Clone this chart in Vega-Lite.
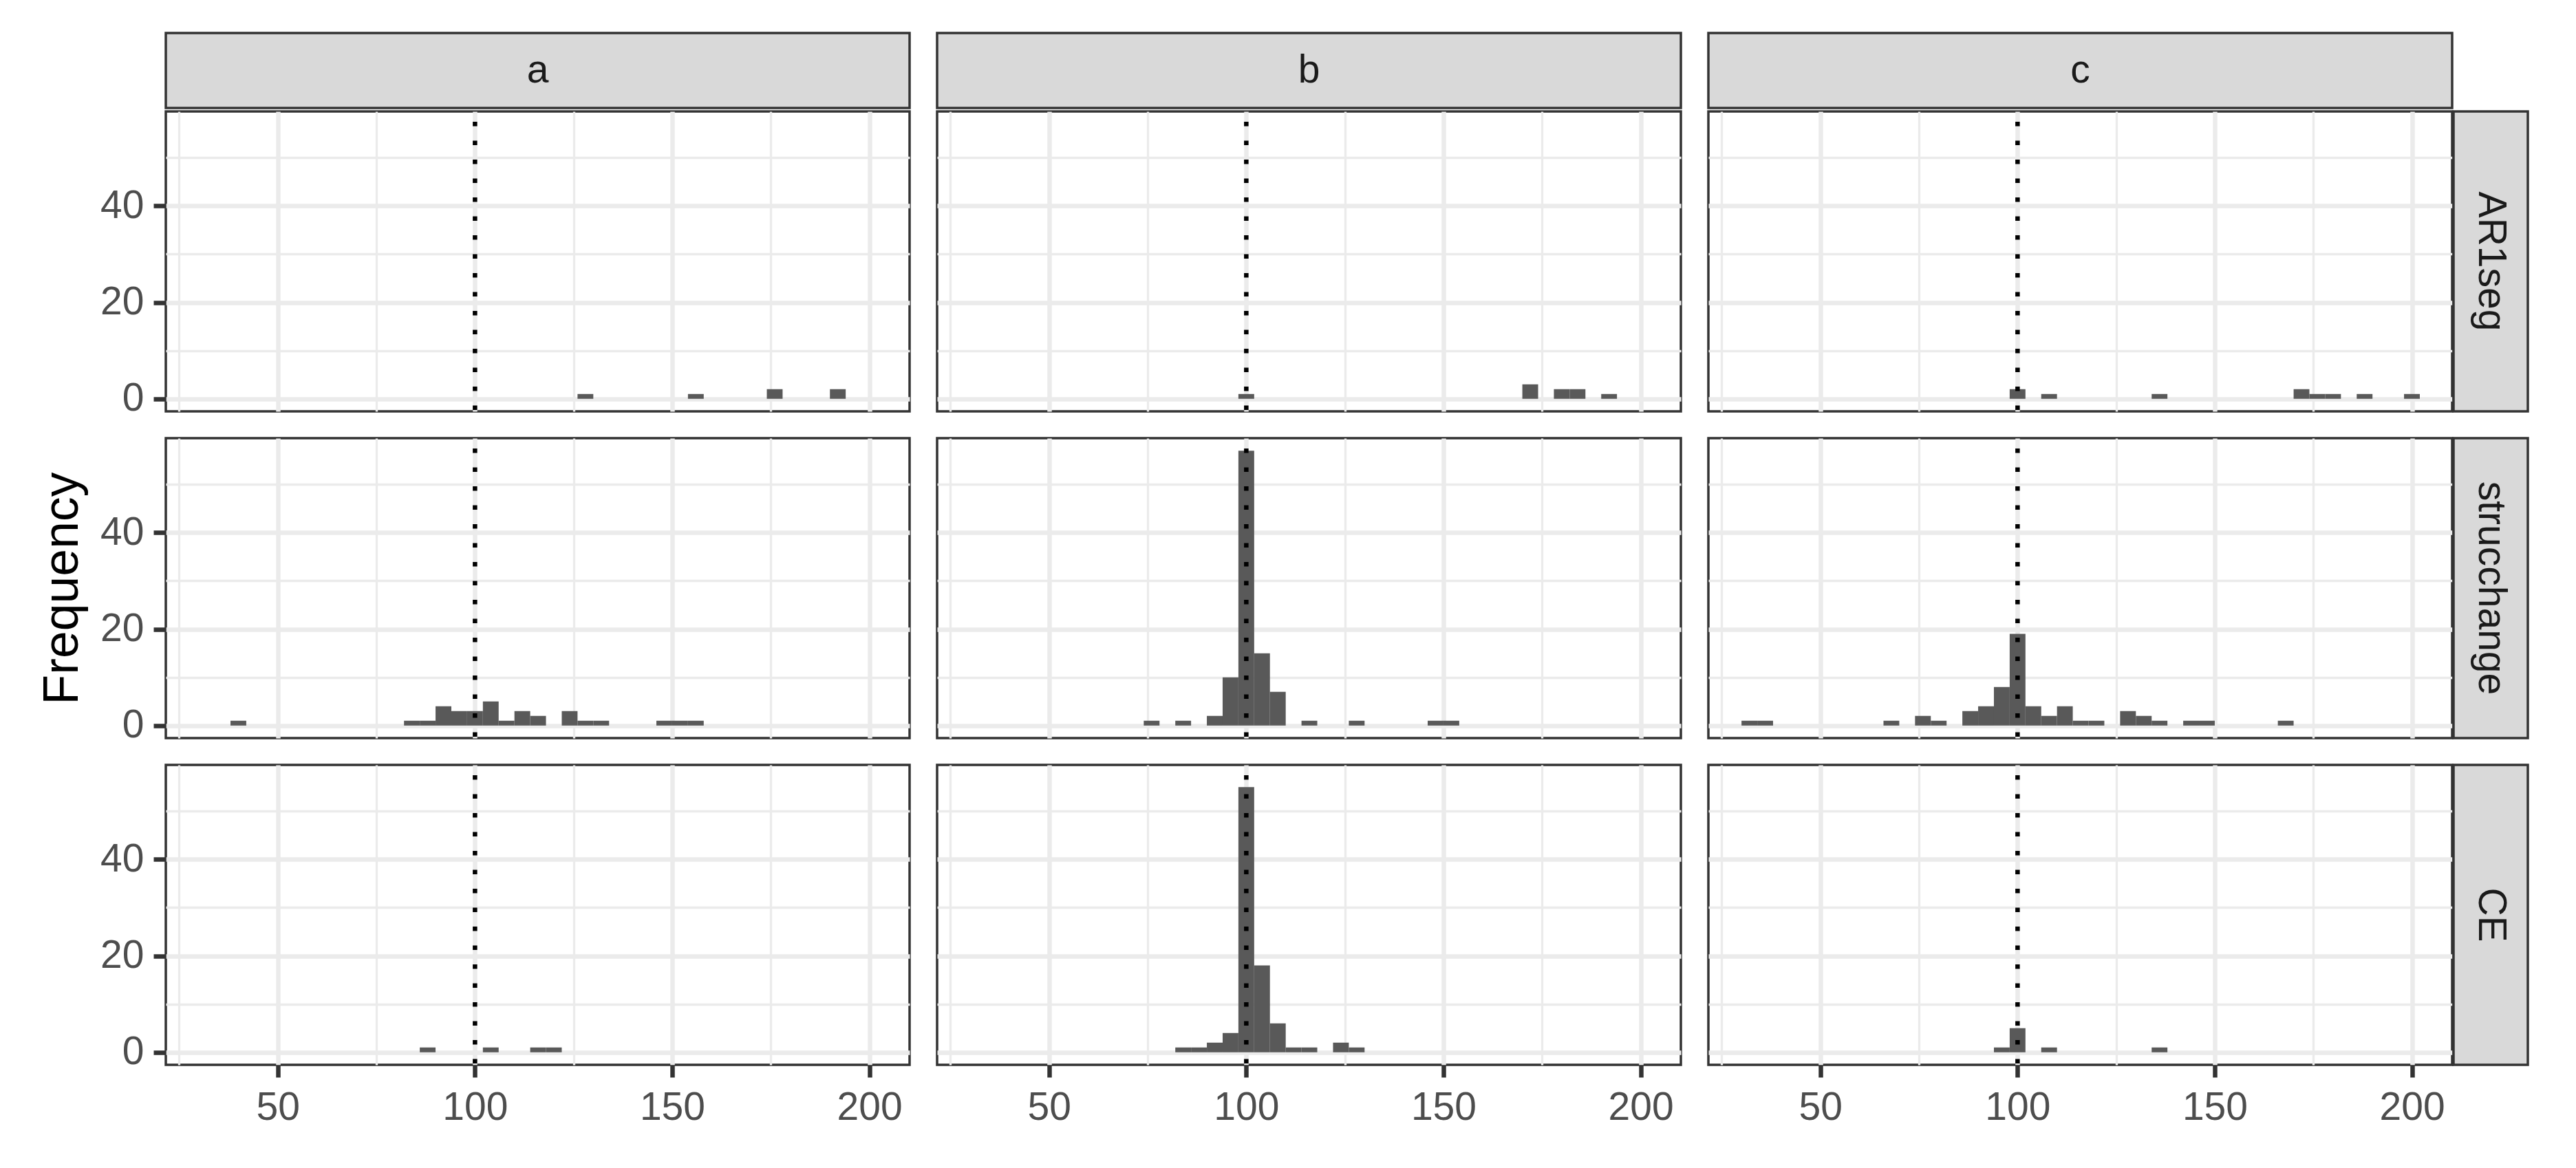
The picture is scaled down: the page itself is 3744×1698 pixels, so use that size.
{
  "$schema": "https://vega.github.io/schema/vega-lite/v6.json",
  "background": "white",
  "padding": {"left": 53, "top": 46, "right": 0, "bottom": 0},
  "columns": 7,
  "spacing": 0,
  "align": "each",
  "bounds": "flush",
  "datasets": {
    "hist": [
      {"col": "a", "row": "AR1seg", "x0": 126, "x1": 130, "count": 1},
      {"col": "a", "row": "AR1seg", "x0": 154, "x1": 158, "count": 1},
      {"col": "a", "row": "AR1seg", "x0": 174, "x1": 178, "count": 2},
      {"col": "a", "row": "AR1seg", "x0": 190, "x1": 194, "count": 2},
      {"col": "b", "row": "AR1seg", "x0": 98, "x1": 102, "count": 1},
      {"col": "b", "row": "AR1seg", "x0": 170, "x1": 174, "count": 3},
      {"col": "b", "row": "AR1seg", "x0": 178, "x1": 182, "count": 2},
      {"col": "b", "row": "AR1seg", "x0": 182, "x1": 186, "count": 2},
      {"col": "b", "row": "AR1seg", "x0": 190, "x1": 194, "count": 1},
      {"col": "c", "row": "AR1seg", "x0": 98, "x1": 102, "count": 2},
      {"col": "c", "row": "AR1seg", "x0": 106, "x1": 110, "count": 1},
      {"col": "c", "row": "AR1seg", "x0": 134, "x1": 138, "count": 1},
      {"col": "c", "row": "AR1seg", "x0": 170, "x1": 174, "count": 2},
      {"col": "c", "row": "AR1seg", "x0": 174, "x1": 178, "count": 1},
      {"col": "c", "row": "AR1seg", "x0": 178, "x1": 182, "count": 1},
      {"col": "c", "row": "AR1seg", "x0": 186, "x1": 190, "count": 1},
      {"col": "c", "row": "AR1seg", "x0": 198, "x1": 202, "count": 1},
      {"col": "a", "row": "strucchange", "x0": 38, "x1": 42, "count": 1},
      {"col": "a", "row": "strucchange", "x0": 82, "x1": 86, "count": 1},
      {"col": "a", "row": "strucchange", "x0": 86, "x1": 90, "count": 1},
      {"col": "a", "row": "strucchange", "x0": 90, "x1": 94, "count": 4},
      {"col": "a", "row": "strucchange", "x0": 94, "x1": 98, "count": 3},
      {"col": "a", "row": "strucchange", "x0": 98, "x1": 102, "count": 3},
      {"col": "a", "row": "strucchange", "x0": 102, "x1": 106, "count": 5},
      {"col": "a", "row": "strucchange", "x0": 106, "x1": 110, "count": 1},
      {"col": "a", "row": "strucchange", "x0": 110, "x1": 114, "count": 3},
      {"col": "a", "row": "strucchange", "x0": 114, "x1": 118, "count": 2},
      {"col": "a", "row": "strucchange", "x0": 122, "x1": 126, "count": 3},
      {"col": "a", "row": "strucchange", "x0": 126, "x1": 130, "count": 1},
      {"col": "a", "row": "strucchange", "x0": 130, "x1": 134, "count": 1},
      {"col": "a", "row": "strucchange", "x0": 146, "x1": 150, "count": 1},
      {"col": "a", "row": "strucchange", "x0": 150, "x1": 154, "count": 1},
      {"col": "a", "row": "strucchange", "x0": 154, "x1": 158, "count": 1},
      {"col": "b", "row": "strucchange", "x0": 74, "x1": 78, "count": 1},
      {"col": "b", "row": "strucchange", "x0": 82, "x1": 86, "count": 1},
      {"col": "b", "row": "strucchange", "x0": 90, "x1": 94, "count": 2},
      {"col": "b", "row": "strucchange", "x0": 94, "x1": 98, "count": 10},
      {"col": "b", "row": "strucchange", "x0": 98, "x1": 102, "count": 57},
      {"col": "b", "row": "strucchange", "x0": 102, "x1": 106, "count": 15},
      {"col": "b", "row": "strucchange", "x0": 106, "x1": 110, "count": 7},
      {"col": "b", "row": "strucchange", "x0": 114, "x1": 118, "count": 1},
      {"col": "b", "row": "strucchange", "x0": 126, "x1": 130, "count": 1},
      {"col": "b", "row": "strucchange", "x0": 146, "x1": 150, "count": 1},
      {"col": "b", "row": "strucchange", "x0": 150, "x1": 154, "count": 1},
      {"col": "c", "row": "strucchange", "x0": 30, "x1": 34, "count": 1},
      {"col": "c", "row": "strucchange", "x0": 34, "x1": 38, "count": 1},
      {"col": "c", "row": "strucchange", "x0": 66, "x1": 70, "count": 1},
      {"col": "c", "row": "strucchange", "x0": 74, "x1": 78, "count": 2},
      {"col": "c", "row": "strucchange", "x0": 78, "x1": 82, "count": 1},
      {"col": "c", "row": "strucchange", "x0": 86, "x1": 90, "count": 3},
      {"col": "c", "row": "strucchange", "x0": 90, "x1": 94, "count": 4},
      {"col": "c", "row": "strucchange", "x0": 94, "x1": 98, "count": 8},
      {"col": "c", "row": "strucchange", "x0": 98, "x1": 102, "count": 19},
      {"col": "c", "row": "strucchange", "x0": 102, "x1": 106, "count": 4},
      {"col": "c", "row": "strucchange", "x0": 106, "x1": 110, "count": 2},
      {"col": "c", "row": "strucchange", "x0": 110, "x1": 114, "count": 4},
      {"col": "c", "row": "strucchange", "x0": 114, "x1": 118, "count": 1},
      {"col": "c", "row": "strucchange", "x0": 118, "x1": 122, "count": 1},
      {"col": "c", "row": "strucchange", "x0": 126, "x1": 130, "count": 3},
      {"col": "c", "row": "strucchange", "x0": 130, "x1": 134, "count": 2},
      {"col": "c", "row": "strucchange", "x0": 134, "x1": 138, "count": 1},
      {"col": "c", "row": "strucchange", "x0": 142, "x1": 146, "count": 1},
      {"col": "c", "row": "strucchange", "x0": 146, "x1": 150, "count": 1},
      {"col": "c", "row": "strucchange", "x0": 166, "x1": 170, "count": 1},
      {"col": "a", "row": "CE", "x0": 86, "x1": 90, "count": 1},
      {"col": "a", "row": "CE", "x0": 102, "x1": 106, "count": 1},
      {"col": "a", "row": "CE", "x0": 114, "x1": 118, "count": 1},
      {"col": "a", "row": "CE", "x0": 118, "x1": 122, "count": 1},
      {"col": "b", "row": "CE", "x0": 82, "x1": 86, "count": 1},
      {"col": "b", "row": "CE", "x0": 86, "x1": 90, "count": 1},
      {"col": "b", "row": "CE", "x0": 90, "x1": 94, "count": 2},
      {"col": "b", "row": "CE", "x0": 94, "x1": 98, "count": 4},
      {"col": "b", "row": "CE", "x0": 98, "x1": 102, "count": 55},
      {"col": "b", "row": "CE", "x0": 102, "x1": 106, "count": 18},
      {"col": "b", "row": "CE", "x0": 106, "x1": 110, "count": 6},
      {"col": "b", "row": "CE", "x0": 110, "x1": 114, "count": 1},
      {"col": "b", "row": "CE", "x0": 114, "x1": 118, "count": 1},
      {"col": "b", "row": "CE", "x0": 122, "x1": 126, "count": 2},
      {"col": "b", "row": "CE", "x0": 126, "x1": 130, "count": 1},
      {"col": "c", "row": "CE", "x0": 94, "x1": 98, "count": 1},
      {"col": "c", "row": "CE", "x0": 98, "x1": 102, "count": 5},
      {"col": "c", "row": "CE", "x0": 106, "x1": 110, "count": 1},
      {"col": "c", "row": "CE", "x0": 134, "x1": 138, "count": 1}
    ]
  },
  "concat": [
    {"width": 1081, "height": 109, "view": {"fill": "#D9D9D9", "stroke": "#333333", "strokeWidth": 3.5},
     "data": {"values": [{"label": "a"}]},
     "mark": {"type": "text", "fontSize": 57, "color": "#1A1A1A"},
     "encoding": {"x": {"field": "label", "type": "nominal", "axis": null}, "y": {"field": "label", "type": "nominal", "axis": null}, "text": {"field": "label"}}},
    {"width": 39.5, "height": 109, "data": {"values": []}, "mark": "point"},
    {"width": 1081, "height": 109, "view": {"fill": "#D9D9D9", "stroke": "#333333", "strokeWidth": 3.5},
     "data": {"values": [{"label": "b"}]},
     "mark": {"type": "text", "fontSize": 57, "color": "#1A1A1A"},
     "encoding": {"x": {"field": "label", "type": "nominal", "axis": null}, "y": {"field": "label", "type": "nominal", "axis": null}, "text": {"field": "label"}}},
    {"width": 39.5, "height": 109, "data": {"values": []}, "mark": "point"},
    {"width": 1081, "height": 109, "view": {"fill": "#D9D9D9", "stroke": "#333333", "strokeWidth": 3.5},
     "data": {"values": [{"label": "c"}]},
     "mark": {"type": "text", "fontSize": 57, "color": "#1A1A1A"},
     "encoding": {"x": {"field": "label", "type": "nominal", "axis": null}, "y": {"field": "label", "type": "nominal", "axis": null}, "text": {"field": "label"}}},
    {"width": 1.5, "height": 109, "data": {"values": []}, "mark": "point"},
    {"width": 108, "height": 109, "data": {"values": []}, "mark": "point"},

    {"width": 1081, "height": 4.5, "data": {"values": []}, "mark": "point"},
    {"width": 39.5, "height": 4.5, "data": {"values": []}, "mark": "point"},
    {"width": 1081, "height": 4.5, "data": {"values": []}, "mark": "point"},
    {"width": 39.5, "height": 4.5, "data": {"values": []}, "mark": "point"},
    {"width": 1081, "height": 4.5, "data": {"values": []}, "mark": "point"},
    {"width": 1.5, "height": 4.5, "data": {"values": []}, "mark": "point"},
    {"width": 108, "height": 4.5, "data": {"values": []}, "mark": "point"},

    {"width": 1081, "height": 436, "view": {"fill": "#FFFFFF", "stroke": "#333333", "strokeWidth": 3.5},
     "resolve": {"axis": {"x": "independent", "y": "independent"}},
     "layer": [
      {"data": {"name": "hist"}, "transform": [{"filter": "datum.col == 'a' && datum.row == 'AR1seg'"}],
       "mark": {"type": "bar", "color": "#595959"},
       "encoding": {
        "x": {"field": "x0", "type": "quantitative", "scale": {"domain": [21.6, 210.2], "nice": false, "zero": false},
              "axis": {"orient": "bottom", "values": [50, 100, 150, 200], "grid": true, "gridColor": "#EBEBEB", "gridWidth": 6.5, "domain": false, "ticks": false, "labels": false, "title": null}},
        "x2": {"field": "x1"},
        "y": {"field": "count", "type": "quantitative", "scale": {"domain": [-2.6, 59.6], "nice": false, "zero": false},
              "axis": {"orient": "left", "values": [0, 20, 40], "grid": true, "gridColor": "#EBEBEB", "gridWidth": 6.5, "domain": false, "ticks": true, "tickSize": 18, "tickWidth": 6.5, "tickColor": "#333333", "labels": true, "labelFont": "Liberation Sans", "labelFontSize": 57, "labelColor": "#4D4D4D", "labelPadding": 14, "title": null}},
        "y2": {"datum": 0}}},
      {"data": {"values": [{"ref": 100}]},
       "mark": {"type": "rule", "color": "#000000", "strokeWidth": 6.5, "strokeDash": [6.5, 21], "strokeDashOffset": 12.5},
       "encoding": {"x": {"field": "ref", "type": "quantitative", "scale": {"domain": [21.6, 210.2], "nice": false, "zero": false},
              "axis": {"orient": "top", "values": [25, 75, 125, 175], "grid": true, "gridColor": "#EBEBEB", "gridWidth": 3.3, "domain": false, "ticks": false, "labels": false, "title": null}}}},
      {"data": {"values": [{"ref": 100}]},
       "mark": {"type": "rule", "opacity": 0},
       "encoding": {"y": {"datum": 0, "type": "quantitative", "scale": {"domain": [-2.6, 59.6], "nice": false, "zero": false},
              "axis": {"orient": "right", "values": [10, 30, 50], "grid": true, "gridColor": "#EBEBEB", "gridWidth": 3.3, "domain": false, "ticks": false, "labels": false, "title": null}}}}
     ]},
    {"width": 39.5, "height": 436, "data": {"values": []}, "mark": "point"},
    {"width": 1081, "height": 436, "view": {"fill": "#FFFFFF", "stroke": "#333333", "strokeWidth": 3.5},
     "resolve": {"axis": {"x": "independent", "y": "independent"}},
     "layer": [
      {"data": {"name": "hist"}, "transform": [{"filter": "datum.col == 'b' && datum.row == 'AR1seg'"}],
       "mark": {"type": "bar", "color": "#595959"},
       "encoding": {
        "x": {"field": "x0", "type": "quantitative", "scale": {"domain": [21.6, 210.2], "nice": false, "zero": false},
              "axis": {"orient": "bottom", "values": [50, 100, 150, 200], "grid": true, "gridColor": "#EBEBEB", "gridWidth": 6.5, "domain": false, "ticks": false, "labels": false, "title": null}},
        "x2": {"field": "x1"},
        "y": {"field": "count", "type": "quantitative", "scale": {"domain": [-2.6, 59.6], "nice": false, "zero": false},
              "axis": {"orient": "left", "values": [0, 20, 40], "grid": true, "gridColor": "#EBEBEB", "gridWidth": 6.5, "domain": false, "ticks": false, "labels": false, "title": null}},
        "y2": {"datum": 0}}},
      {"data": {"values": [{"ref": 100}]},
       "mark": {"type": "rule", "color": "#000000", "strokeWidth": 6.5, "strokeDash": [6.5, 21], "strokeDashOffset": 12.5},
       "encoding": {"x": {"field": "ref", "type": "quantitative", "scale": {"domain": [21.6, 210.2], "nice": false, "zero": false},
              "axis": {"orient": "top", "values": [25, 75, 125, 175], "grid": true, "gridColor": "#EBEBEB", "gridWidth": 3.3, "domain": false, "ticks": false, "labels": false, "title": null}}}},
      {"data": {"values": [{"ref": 100}]},
       "mark": {"type": "rule", "opacity": 0},
       "encoding": {"y": {"datum": 0, "type": "quantitative", "scale": {"domain": [-2.6, 59.6], "nice": false, "zero": false},
              "axis": {"orient": "right", "values": [10, 30, 50], "grid": true, "gridColor": "#EBEBEB", "gridWidth": 3.3, "domain": false, "ticks": false, "labels": false, "title": null}}}}
     ]},
    {"width": 39.5, "height": 436, "data": {"values": []}, "mark": "point"},
    {"width": 1081, "height": 436, "view": {"fill": "#FFFFFF", "stroke": "#333333", "strokeWidth": 3.5},
     "resolve": {"axis": {"x": "independent", "y": "independent"}},
     "layer": [
      {"data": {"name": "hist"}, "transform": [{"filter": "datum.col == 'c' && datum.row == 'AR1seg'"}],
       "mark": {"type": "bar", "color": "#595959"},
       "encoding": {
        "x": {"field": "x0", "type": "quantitative", "scale": {"domain": [21.6, 210.2], "nice": false, "zero": false},
              "axis": {"orient": "bottom", "values": [50, 100, 150, 200], "grid": true, "gridColor": "#EBEBEB", "gridWidth": 6.5, "domain": false, "ticks": false, "labels": false, "title": null}},
        "x2": {"field": "x1"},
        "y": {"field": "count", "type": "quantitative", "scale": {"domain": [-2.6, 59.6], "nice": false, "zero": false},
              "axis": {"orient": "left", "values": [0, 20, 40], "grid": true, "gridColor": "#EBEBEB", "gridWidth": 6.5, "domain": false, "ticks": false, "labels": false, "title": null}},
        "y2": {"datum": 0}}},
      {"data": {"values": [{"ref": 100}]},
       "mark": {"type": "rule", "color": "#000000", "strokeWidth": 6.5, "strokeDash": [6.5, 21], "strokeDashOffset": 12.5},
       "encoding": {"x": {"field": "ref", "type": "quantitative", "scale": {"domain": [21.6, 210.2], "nice": false, "zero": false},
              "axis": {"orient": "top", "values": [25, 75, 125, 175], "grid": true, "gridColor": "#EBEBEB", "gridWidth": 3.3, "domain": false, "ticks": false, "labels": false, "title": null}}}},
      {"data": {"values": [{"ref": 100}]},
       "mark": {"type": "rule", "opacity": 0},
       "encoding": {"y": {"datum": 0, "type": "quantitative", "scale": {"domain": [-2.6, 59.6], "nice": false, "zero": false},
              "axis": {"orient": "right", "values": [10, 30, 50], "grid": true, "gridColor": "#EBEBEB", "gridWidth": 3.3, "domain": false, "ticks": false, "labels": false, "title": null}}}}
     ]},
    {"width": 1.5, "height": 436, "data": {"values": []}, "mark": "point"},
    {"width": 108, "height": 436, "view": {"fill": "#D9D9D9", "stroke": "#333333", "strokeWidth": 3.5},
     "data": {"values": [{"label": "AR1seg"}]},
     "mark": {"type": "text", "fontSize": 57, "color": "#1A1A1A", "angle": 90},
     "encoding": {"x": {"field": "label", "type": "nominal", "axis": null}, "y": {"field": "label", "type": "nominal", "axis": null}, "text": {"field": "label"}}},

    {"width": 1081, "height": 39, "data": {"values": []}, "mark": "point"},
    {"width": 39.5, "height": 39, "data": {"values": []}, "mark": "point"},
    {"width": 1081, "height": 39, "data": {"values": []}, "mark": "point"},
    {"width": 39.5, "height": 39, "data": {"values": []}, "mark": "point"},
    {"width": 1081, "height": 39, "data": {"values": []}, "mark": "point"},
    {"width": 1.5, "height": 39, "data": {"values": []}, "mark": "point"},
    {"width": 108, "height": 39, "data": {"values": []}, "mark": "point"},

    {"width": 1081, "height": 436, "view": {"fill": "#FFFFFF", "stroke": "#333333", "strokeWidth": 3.5},
     "resolve": {"axis": {"x": "independent", "y": "independent"}},
     "layer": [
      {"data": {"name": "hist"}, "transform": [{"filter": "datum.col == 'a' && datum.row == 'strucchange'"}],
       "mark": {"type": "bar", "color": "#595959"},
       "encoding": {
        "x": {"field": "x0", "type": "quantitative", "scale": {"domain": [21.6, 210.2], "nice": false, "zero": false},
              "axis": {"orient": "bottom", "values": [50, 100, 150, 200], "grid": true, "gridColor": "#EBEBEB", "gridWidth": 6.5, "domain": false, "ticks": false, "labels": false, "title": null}},
        "x2": {"field": "x1"},
        "y": {"field": "count", "type": "quantitative", "scale": {"domain": [-2.6, 59.6], "nice": false, "zero": false},
              "axis": {"orient": "left", "values": [0, 20, 40], "grid": true, "gridColor": "#EBEBEB", "gridWidth": 6.5, "domain": false, "ticks": true, "tickSize": 18, "tickWidth": 6.5, "tickColor": "#333333", "labels": true, "labelFont": "Liberation Sans", "labelFontSize": 57, "labelColor": "#4D4D4D", "labelPadding": 14,
                       "title": "Frequency", "titleFont": "Liberation Sans", "titleFontSize": 71.5, "titleFontWeight": "normal", "titleColor": "#000000", "titlePadding": 18}},
        "y2": {"datum": 0}}},
      {"data": {"values": [{"ref": 100}]},
       "mark": {"type": "rule", "color": "#000000", "strokeWidth": 6.5, "strokeDash": [6.5, 21], "strokeDashOffset": 12.5},
       "encoding": {"x": {"field": "ref", "type": "quantitative", "scale": {"domain": [21.6, 210.2], "nice": false, "zero": false},
              "axis": {"orient": "top", "values": [25, 75, 125, 175], "grid": true, "gridColor": "#EBEBEB", "gridWidth": 3.3, "domain": false, "ticks": false, "labels": false, "title": null}}}},
      {"data": {"values": [{"ref": 100}]},
       "mark": {"type": "rule", "opacity": 0},
       "encoding": {"y": {"datum": 0, "type": "quantitative", "scale": {"domain": [-2.6, 59.6], "nice": false, "zero": false},
              "axis": {"orient": "right", "values": [10, 30, 50], "grid": true, "gridColor": "#EBEBEB", "gridWidth": 3.3, "domain": false, "ticks": false, "labels": false, "title": null}}}}
     ]},
    {"width": 39.5, "height": 436, "data": {"values": []}, "mark": "point"},
    {"width": 1081, "height": 436, "view": {"fill": "#FFFFFF", "stroke": "#333333", "strokeWidth": 3.5},
     "resolve": {"axis": {"x": "independent", "y": "independent"}},
     "layer": [
      {"data": {"name": "hist"}, "transform": [{"filter": "datum.col == 'b' && datum.row == 'strucchange'"}],
       "mark": {"type": "bar", "color": "#595959"},
       "encoding": {
        "x": {"field": "x0", "type": "quantitative", "scale": {"domain": [21.6, 210.2], "nice": false, "zero": false},
              "axis": {"orient": "bottom", "values": [50, 100, 150, 200], "grid": true, "gridColor": "#EBEBEB", "gridWidth": 6.5, "domain": false, "ticks": false, "labels": false, "title": null}},
        "x2": {"field": "x1"},
        "y": {"field": "count", "type": "quantitative", "scale": {"domain": [-2.6, 59.6], "nice": false, "zero": false},
              "axis": {"orient": "left", "values": [0, 20, 40], "grid": true, "gridColor": "#EBEBEB", "gridWidth": 6.5, "domain": false, "ticks": false, "labels": false, "title": null}},
        "y2": {"datum": 0}}},
      {"data": {"values": [{"ref": 100}]},
       "mark": {"type": "rule", "color": "#000000", "strokeWidth": 6.5, "strokeDash": [6.5, 21], "strokeDashOffset": 12.5},
       "encoding": {"x": {"field": "ref", "type": "quantitative", "scale": {"domain": [21.6, 210.2], "nice": false, "zero": false},
              "axis": {"orient": "top", "values": [25, 75, 125, 175], "grid": true, "gridColor": "#EBEBEB", "gridWidth": 3.3, "domain": false, "ticks": false, "labels": false, "title": null}}}},
      {"data": {"values": [{"ref": 100}]},
       "mark": {"type": "rule", "opacity": 0},
       "encoding": {"y": {"datum": 0, "type": "quantitative", "scale": {"domain": [-2.6, 59.6], "nice": false, "zero": false},
              "axis": {"orient": "right", "values": [10, 30, 50], "grid": true, "gridColor": "#EBEBEB", "gridWidth": 3.3, "domain": false, "ticks": false, "labels": false, "title": null}}}}
     ]},
    {"width": 39.5, "height": 436, "data": {"values": []}, "mark": "point"},
    {"width": 1081, "height": 436, "view": {"fill": "#FFFFFF", "stroke": "#333333", "strokeWidth": 3.5},
     "resolve": {"axis": {"x": "independent", "y": "independent"}},
     "layer": [
      {"data": {"name": "hist"}, "transform": [{"filter": "datum.col == 'c' && datum.row == 'strucchange'"}],
       "mark": {"type": "bar", "color": "#595959"},
       "encoding": {
        "x": {"field": "x0", "type": "quantitative", "scale": {"domain": [21.6, 210.2], "nice": false, "zero": false},
              "axis": {"orient": "bottom", "values": [50, 100, 150, 200], "grid": true, "gridColor": "#EBEBEB", "gridWidth": 6.5, "domain": false, "ticks": false, "labels": false, "title": null}},
        "x2": {"field": "x1"},
        "y": {"field": "count", "type": "quantitative", "scale": {"domain": [-2.6, 59.6], "nice": false, "zero": false},
              "axis": {"orient": "left", "values": [0, 20, 40], "grid": true, "gridColor": "#EBEBEB", "gridWidth": 6.5, "domain": false, "ticks": false, "labels": false, "title": null}},
        "y2": {"datum": 0}}},
      {"data": {"values": [{"ref": 100}]},
       "mark": {"type": "rule", "color": "#000000", "strokeWidth": 6.5, "strokeDash": [6.5, 21], "strokeDashOffset": 12.5},
       "encoding": {"x": {"field": "ref", "type": "quantitative", "scale": {"domain": [21.6, 210.2], "nice": false, "zero": false},
              "axis": {"orient": "top", "values": [25, 75, 125, 175], "grid": true, "gridColor": "#EBEBEB", "gridWidth": 3.3, "domain": false, "ticks": false, "labels": false, "title": null}}}},
      {"data": {"values": [{"ref": 100}]},
       "mark": {"type": "rule", "opacity": 0},
       "encoding": {"y": {"datum": 0, "type": "quantitative", "scale": {"domain": [-2.6, 59.6], "nice": false, "zero": false},
              "axis": {"orient": "right", "values": [10, 30, 50], "grid": true, "gridColor": "#EBEBEB", "gridWidth": 3.3, "domain": false, "ticks": false, "labels": false, "title": null}}}}
     ]},
    {"width": 1.5, "height": 436, "data": {"values": []}, "mark": "point"},
    {"width": 108, "height": 436, "view": {"fill": "#D9D9D9", "stroke": "#333333", "strokeWidth": 3.5},
     "data": {"values": [{"label": "strucchange"}]},
     "mark": {"type": "text", "fontSize": 57, "color": "#1A1A1A", "angle": 90},
     "encoding": {"x": {"field": "label", "type": "nominal", "axis": null}, "y": {"field": "label", "type": "nominal", "axis": null}, "text": {"field": "label"}}},

    {"width": 1081, "height": 39, "data": {"values": []}, "mark": "point"},
    {"width": 39.5, "height": 39, "data": {"values": []}, "mark": "point"},
    {"width": 1081, "height": 39, "data": {"values": []}, "mark": "point"},
    {"width": 39.5, "height": 39, "data": {"values": []}, "mark": "point"},
    {"width": 1081, "height": 39, "data": {"values": []}, "mark": "point"},
    {"width": 1.5, "height": 39, "data": {"values": []}, "mark": "point"},
    {"width": 108, "height": 39, "data": {"values": []}, "mark": "point"},

    {"width": 1081, "height": 436, "view": {"fill": "#FFFFFF", "stroke": "#333333", "strokeWidth": 3.5},
     "resolve": {"axis": {"x": "independent", "y": "independent"}},
     "layer": [
      {"data": {"name": "hist"}, "transform": [{"filter": "datum.col == 'a' && datum.row == 'CE'"}],
       "mark": {"type": "bar", "color": "#595959"},
       "encoding": {
        "x": {"field": "x0", "type": "quantitative", "scale": {"domain": [21.6, 210.2], "nice": false, "zero": false},
              "axis": {"orient": "bottom", "values": [50, 100, 150, 200], "grid": true, "gridColor": "#EBEBEB", "gridWidth": 6.5, "domain": false, "ticks": true, "tickSize": 18, "tickWidth": 6.5, "tickColor": "#333333", "labels": true, "labelFont": "Liberation Sans", "labelFontSize": 57, "labelColor": "#4D4D4D", "labelPadding": 16, "title": null}},
        "x2": {"field": "x1"},
        "y": {"field": "count", "type": "quantitative", "scale": {"domain": [-2.6, 59.6], "nice": false, "zero": false},
              "axis": {"orient": "left", "values": [0, 20, 40], "grid": true, "gridColor": "#EBEBEB", "gridWidth": 6.5, "domain": false, "ticks": true, "tickSize": 18, "tickWidth": 6.5, "tickColor": "#333333", "labels": true, "labelFont": "Liberation Sans", "labelFontSize": 57, "labelColor": "#4D4D4D", "labelPadding": 14, "title": null}},
        "y2": {"datum": 0}}},
      {"data": {"values": [{"ref": 100}]},
       "mark": {"type": "rule", "color": "#000000", "strokeWidth": 6.5, "strokeDash": [6.5, 21], "strokeDashOffset": 12.5},
       "encoding": {"x": {"field": "ref", "type": "quantitative", "scale": {"domain": [21.6, 210.2], "nice": false, "zero": false},
              "axis": {"orient": "top", "values": [25, 75, 125, 175], "grid": true, "gridColor": "#EBEBEB", "gridWidth": 3.3, "domain": false, "ticks": false, "labels": false, "title": null}}}},
      {"data": {"values": [{"ref": 100}]},
       "mark": {"type": "rule", "opacity": 0},
       "encoding": {"y": {"datum": 0, "type": "quantitative", "scale": {"domain": [-2.6, 59.6], "nice": false, "zero": false},
              "axis": {"orient": "right", "values": [10, 30, 50], "grid": true, "gridColor": "#EBEBEB", "gridWidth": 3.3, "domain": false, "ticks": false, "labels": false, "title": null}}}}
     ]},
    {"width": 39.5, "height": 436, "data": {"values": []}, "mark": "point"},
    {"width": 1081, "height": 436, "view": {"fill": "#FFFFFF", "stroke": "#333333", "strokeWidth": 3.5},
     "resolve": {"axis": {"x": "independent", "y": "independent"}},
     "layer": [
      {"data": {"name": "hist"}, "transform": [{"filter": "datum.col == 'b' && datum.row == 'CE'"}],
       "mark": {"type": "bar", "color": "#595959"},
       "encoding": {
        "x": {"field": "x0", "type": "quantitative", "scale": {"domain": [21.6, 210.2], "nice": false, "zero": false},
              "axis": {"orient": "bottom", "values": [50, 100, 150, 200], "grid": true, "gridColor": "#EBEBEB", "gridWidth": 6.5, "domain": false, "ticks": true, "tickSize": 18, "tickWidth": 6.5, "tickColor": "#333333", "labels": true, "labelFont": "Liberation Sans", "labelFontSize": 57, "labelColor": "#4D4D4D", "labelPadding": 16, "title": null}},
        "x2": {"field": "x1"},
        "y": {"field": "count", "type": "quantitative", "scale": {"domain": [-2.6, 59.6], "nice": false, "zero": false},
              "axis": {"orient": "left", "values": [0, 20, 40], "grid": true, "gridColor": "#EBEBEB", "gridWidth": 6.5, "domain": false, "ticks": false, "labels": false, "title": null}},
        "y2": {"datum": 0}}},
      {"data": {"values": [{"ref": 100}]},
       "mark": {"type": "rule", "color": "#000000", "strokeWidth": 6.5, "strokeDash": [6.5, 21], "strokeDashOffset": 12.5},
       "encoding": {"x": {"field": "ref", "type": "quantitative", "scale": {"domain": [21.6, 210.2], "nice": false, "zero": false},
              "axis": {"orient": "top", "values": [25, 75, 125, 175], "grid": true, "gridColor": "#EBEBEB", "gridWidth": 3.3, "domain": false, "ticks": false, "labels": false, "title": null}}}},
      {"data": {"values": [{"ref": 100}]},
       "mark": {"type": "rule", "opacity": 0},
       "encoding": {"y": {"datum": 0, "type": "quantitative", "scale": {"domain": [-2.6, 59.6], "nice": false, "zero": false},
              "axis": {"orient": "right", "values": [10, 30, 50], "grid": true, "gridColor": "#EBEBEB", "gridWidth": 3.3, "domain": false, "ticks": false, "labels": false, "title": null}}}}
     ]},
    {"width": 39.5, "height": 436, "data": {"values": []}, "mark": "point"},
    {"width": 1081, "height": 436, "view": {"fill": "#FFFFFF", "stroke": "#333333", "strokeWidth": 3.5},
     "resolve": {"axis": {"x": "independent", "y": "independent"}},
     "layer": [
      {"data": {"name": "hist"}, "transform": [{"filter": "datum.col == 'c' && datum.row == 'CE'"}],
       "mark": {"type": "bar", "color": "#595959"},
       "encoding": {
        "x": {"field": "x0", "type": "quantitative", "scale": {"domain": [21.6, 210.2], "nice": false, "zero": false},
              "axis": {"orient": "bottom", "values": [50, 100, 150, 200], "grid": true, "gridColor": "#EBEBEB", "gridWidth": 6.5, "domain": false, "ticks": true, "tickSize": 18, "tickWidth": 6.5, "tickColor": "#333333", "labels": true, "labelFont": "Liberation Sans", "labelFontSize": 57, "labelColor": "#4D4D4D", "labelPadding": 16, "title": null}},
        "x2": {"field": "x1"},
        "y": {"field": "count", "type": "quantitative", "scale": {"domain": [-2.6, 59.6], "nice": false, "zero": false},
              "axis": {"orient": "left", "values": [0, 20, 40], "grid": true, "gridColor": "#EBEBEB", "gridWidth": 6.5, "domain": false, "ticks": false, "labels": false, "title": null}},
        "y2": {"datum": 0}}},
      {"data": {"values": [{"ref": 100}]},
       "mark": {"type": "rule", "color": "#000000", "strokeWidth": 6.5, "strokeDash": [6.5, 21], "strokeDashOffset": 12.5},
       "encoding": {"x": {"field": "ref", "type": "quantitative", "scale": {"domain": [21.6, 210.2], "nice": false, "zero": false},
              "axis": {"orient": "top", "values": [25, 75, 125, 175], "grid": true, "gridColor": "#EBEBEB", "gridWidth": 3.3, "domain": false, "ticks": false, "labels": false, "title": null}}}},
      {"data": {"values": [{"ref": 100}]},
       "mark": {"type": "rule", "opacity": 0},
       "encoding": {"y": {"datum": 0, "type": "quantitative", "scale": {"domain": [-2.6, 59.6], "nice": false, "zero": false},
              "axis": {"orient": "right", "values": [10, 30, 50], "grid": true, "gridColor": "#EBEBEB", "gridWidth": 3.3, "domain": false, "ticks": false, "labels": false, "title": null}}}}
     ]},
    {"width": 1.5, "height": 436, "data": {"values": []}, "mark": "point"},
    {"width": 108, "height": 436, "view": {"fill": "#D9D9D9", "stroke": "#333333", "strokeWidth": 3.5},
     "data": {"values": [{"label": "CE"}]},
     "mark": {"type": "text", "fontSize": 57, "color": "#1A1A1A", "angle": 90},
     "encoding": {"x": {"field": "label", "type": "nominal", "axis": null}, "y": {"field": "label", "type": "nominal", "axis": null}, "text": {"field": "label"}}}
  ],
  "config": {
    "view": {"stroke": null},
    "font": "Liberation Sans",
    "text": {"font": "Liberation Sans"}
  }
}
